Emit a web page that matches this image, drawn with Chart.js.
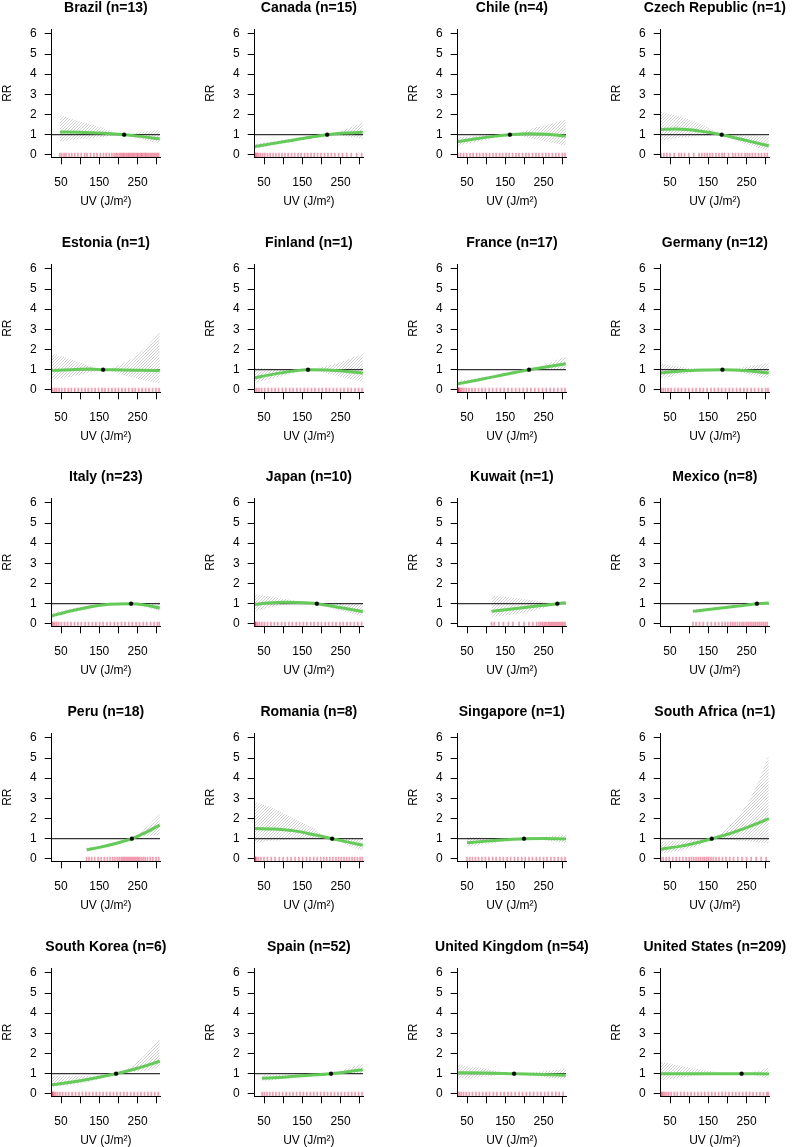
<!DOCTYPE html>
<html><head><meta charset="utf-8">
<script src="https://cdn.jsdelivr.net/npm/chart.js@4.4.1/dist/chart.umd.min.js"></script>
<style>
html,body{margin:0;padding:0;background:#fff;}
#wrap{position:relative;width:792px;height:1147px;overflow:hidden;background:#fff;}
#wrap canvas{position:absolute;}
</style></head><body><div id="wrap"></div>
<script>
// ---------------- DATA ----------------
const countries = ["Brazil","Canada","Chile","Czech Republic","Estonia","Finland","France","Germany","Italy","Japan","Kuwait","Mexico","Peru","Romania","Singapore","South Africa","South Korea","Spain","United Kingdom","United States"];
const nStudies = [13,15,4,1,1,1,17,12,23,10,1,8,18,8,1,1,6,52,54,209];
const refUV = [215,215,162,185,160,165,212,187,233,188,286,277,235,228,199,159,194,225,173,237];
const curveUV = [
 [47,100,150,215,250,308],
 [26,75,125,175,215,260,308],
 [26,75,125,162,210,260,308],
 [26,65,100,150,185,230,270,308],
 [26,75,125,160,210,260,308],
 [26,75,125,165,215,260,308],
 [26,75,125,175,212,260,308],
 [26,100,150,187,250,308],
 [26,75,125,175,233,270,308],
 [26,60,100,140,188,230,270,308],
 [114,150,200,250,286,308],
 [110,150,200,250,277,308],
 [117,150,200,235,270,308],
 [26,75,125,175,228,270,308],
 [50,100,150,199,250,308],
 [26,75,120,159,200,250,280,308],
 [26,75,125,194,250,308],
 [45,100,150,225,270,308],
 [26,100,173,250,308],
 [26,100,237,308]
];
const curveRR = [
 [1.14,1.12,1.09,1.0,0.93,0.79],
 [0.42,0.57,0.73,0.89,1.0,1.08,1.12],
 [0.65,0.8,0.93,1.0,1.05,1.02,0.93],
 [1.26,1.28,1.25,1.12,1.0,0.8,0.62,0.45],
 [0.96,1.0,1.03,1.0,0.99,0.97,0.95],
 [0.6,0.78,0.93,1.0,0.98,0.92,0.83],
 [0.3,0.48,0.67,0.86,1.0,1.15,1.29],
 [0.84,0.96,0.99,1.0,0.95,0.84],
 [0.4,0.64,0.84,0.97,1.0,0.93,0.78],
 [0.96,1.03,1.07,1.06,1.0,0.87,0.74,0.6],
 [0.62,0.7,0.81,0.92,1.0,1.05],
 [0.62,0.71,0.82,0.93,1.0,1.04],
 [0.45,0.57,0.8,1.0,1.3,1.68],
 [1.5,1.48,1.4,1.22,1.0,0.83,0.68],
 [0.8,0.88,0.95,1.0,1.01,0.99],
 [0.48,0.62,0.8,1.0,1.22,1.55,1.77,2.0],
 [0.45,0.58,0.74,1.0,1.27,1.62],
 [0.77,0.83,0.9,1.0,1.1,1.2],
 [1.05,1.04,1.0,0.96,0.92],
 [1.0,1.0,1.0,0.99]
];
const ciLow = [
 [0.68,0.78,0.86,1.0,0.82,0.55],
 [0.3,0.47,0.65,0.83,1.0,0.93,0.8],
 [0.45,0.65,0.85,1.0,0.85,0.65,0.45],
 [0.7,0.82,0.9,0.95,1.0,0.65,0.42,0.2],
 [0.5,0.65,0.85,1.0,0.75,0.5,0.32],
 [0.35,0.58,0.82,1.0,0.8,0.6,0.4],
 [0.2,0.4,0.6,0.8,1.0,1.02,1.03],
 [0.55,0.84,0.95,1.0,0.8,0.55],
 [0.3,0.55,0.78,0.93,1.0,0.85,0.62],
 [0.62,0.8,0.93,1.0,1.0,0.75,0.55,0.37],
 [0.35,0.42,0.55,0.78,1.0,0.98],
 [0.52,0.64,0.77,0.9,1.0,0.98],
 [0.38,0.5,0.75,1.0,1.12,1.2],
 [0.8,0.9,0.96,0.99,1.0,0.65,0.42],
 [0.6,0.74,0.88,1.0,0.92,0.78],
 [0.25,0.4,0.62,1.0,0.95,0.88,0.82,0.78],
 [0.33,0.45,0.6,1.0,1.1,1.3],
 [0.62,0.74,0.85,1.0,1.0,1.0],
 [0.75,0.86,1.0,0.82,0.7],
 [0.66,0.85,1.0,0.76]
];
const ciHigh = [
 [1.98,1.65,1.4,1.0,1.12,1.25],
 [0.55,0.68,0.82,0.95,1.0,1.25,1.6],
 [0.88,0.95,1.0,1.0,1.25,1.5,1.75],
 [2.15,1.95,1.75,1.35,1.0,0.97,0.95,0.9],
 [1.8,1.5,1.2,1.0,1.3,1.9,2.85],
 [1.1,1.05,1.02,1.0,1.2,1.45,1.8],
 [0.45,0.58,0.75,0.92,1.0,1.3,1.65],
 [1.3,1.1,1.03,1.0,1.15,1.35],
 [0.55,0.75,0.92,1.0,1.0,1.0,0.98],
 [1.47,1.38,1.25,1.12,1.0,0.98,0.98,0.98],
 [1.4,1.35,1.22,1.1,1.0,1.1],
 [0.72,0.78,0.87,0.96,1.0,1.1],
 [0.55,0.65,0.86,1.0,1.5,2.22],
 [2.85,2.5,2.05,1.55,1.0,0.98,0.98],
 [1.1,1.05,1.02,1.0,1.1,1.2],
 [0.85,0.9,0.95,1.0,1.55,2.7,3.8,5.2],
 [0.87,0.88,0.9,1.0,1.6,2.72],
 [0.95,0.93,0.96,1.0,1.28,1.5],
 [1.45,1.25,1.0,1.12,1.25],
 [1.6,1.3,1.0,1.3]
];
const rugUV = [
 [47,52,58,63,71,78,86,94,103,112,118,127,136,144,153,161,168,176,183,189,194,198,203,207,211,214,218,222,226,229,233,237,240,244,248,251,255,259,262,266,270,273,277,281,285,289,293,297,301,305],
 [26,28,31,35,40,46,52,59,66,74,81,89,97,105,113,122,130,139,147,156,164,173,181,190,199,208,217,226,235,245,255,266,278,292,305],
 [26,33,41,49,58,66,75,83,92,100,109,118,126,135,143,152,160,169,178,186,195,204,212,221,230,238,247,256,264,273,282,290,299,306],
 [27,34,42,50,61,73,80,88,99,112,126,133,140,147,154,161,170,178,186,192,203,214,221,229,237,246,252,258,265,273,281,289,297,304],
 [27,33,38,45,52,60,69,77,86,95,104,113,121,130,139,148,157,165,174,183,192,200,209,218,227,236,244,253,262,271,280,289,298,306],
 [26,31,37,44,52,61,70,79,88,98,107,117,126,136,145,155,164,174,183,193,202,212,221,231,240,250,259,269,278,288,297,306],
 [26,26,26,26,27,28,30,33,37,42,48,55,63,71,80,89,98,108,117,127,137,147,157,167,177,187,197,207,217,227,237,247,257,267,277,287,297,306],
 [27,32,38,45,53,62,71,80,90,99,109,118,128,137,147,157,166,176,185,195,205,214,224,233,243,252,262,271,281,290,300,306],
 [26,29,33,38,44,51,59,67,76,85,94,103,113,122,132,141,151,160,170,179,189,198,208,217,227,236,246,255,265,274,284,293,302,307],
 [26,26,26,27,29,33,38,44,51,59,68,77,86,96,105,115,124,134,143,153,162,172,181,191,200,210,219,229,238,248,257,267,276,286,295,305],
 [114,121,133,145,158,170,186,199,212,222,232,238,243,248,253,257,262,266,270,274,278,282,286,290,294,298,302,306],
 [110,118,127,137,148,158,168,177,186,194,201,208,214,220,226,232,238,243,249,254,259,264,269,274,279,284,289,294,299,304],
 [117,123,130,138,147,155,163,171,178,185,191,197,202,207,211,215,219,223,227,231,235,239,243,247,251,255,260,265,270,276,283,290,298,305],
 [26,26,26,27,30,35,42,50,59,69,79,90,100,111,121,131,141,151,161,170,180,189,198,206,214,222,230,238,245,252,259,266,273,280,287,294,301,307],
 [50,57,64,72,80,89,98,107,117,126,136,145,155,164,174,183,193,202,212,221,231,240,250,259,269,278,288,297,306],
 [26,32,40,48,57,66,75,84,92,100,106,112,118,124,130,136,141,146,151,157,163,170,178,187,196,206,216,227,238,250,262,275,288,301],
 [26,27,29,32,36,41,47,54,62,70,79,88,97,106,115,124,133,142,151,160,169,178,187,196,205,214,223,232,241,250,259,268,277,286,295,304],
 [45,51,58,65,73,81,90,99,108,117,126,135,144,153,162,171,180,189,198,207,216,225,234,243,252,261,270,279,288,297,306],
 [26,30,35,41,48,56,64,73,82,91,100,109,119,128,138,147,157,166,176,186,195,205,214,224,234,243,253,262,272,282,291,301],
 [26,28,31,35,40,46,53,61,69,78,87,96,105,114,123,132,141,150,159,168,177,186,195,204,213,222,231,240,249,258,267,276,285,294,303,307]
];
const xTicks = [50,100,150,200,250,300];
const xTickLabels = ["50","","150","","250",""];
const yTicks = [0,1,2,3,4,5,6];
const X_MIN = 25.7, X_MAX = 308.6, Y_MIN = -0.12, Y_MAX = 6.24;

// ---------------- LAYOUT / STYLE ----------------
const COL_PITCH = 203, ROW_PITCH = 234.65;
const CANVAS_W = 192, CANVAS_H = 208;
const Y_AXIS_W = 51.7, X_AXIS_H = 50.7, PLOT_W = 108.3, TITLE_H = 29;
const FONT = "'Liberation Sans', Arial, Helvetica, sans-serif";
const GREEN = 'rgb(100,202,88)';
const RUG = 'rgba(225,40,80,0.45)';

Chart.defaults.color = '#000';
Chart.defaults.font.family = FONT;

function makeHatch(){
  const c = document.createElement('canvas'); c.width = 3; c.height = 3;
  const g = c.getContext('2d');
  g.strokeStyle = 'rgba(170,170,170,0.8)'; g.lineWidth = 0.7;
  g.beginPath();
  g.moveTo(-1,4); g.lineTo(4,-1);
  g.moveTo(-1,1); g.lineTo(1,-1);
  g.moveTo(2,4); g.lineTo(4,2);
  g.stroke();
  return g.createPattern(c,'repeat');
}
const HATCH = makeHatch();
const pts = (xs, ys) => xs.map((x,i) => ({x:x, y:ys[i]}));

// panel title centred over the plot region (like R's main title)
const panelTitle = {
  id: 'panelTitle',
  afterDraw(chart, args, opts) {
    const {ctx, chartArea} = chart;
    ctx.save();
    ctx.font = 'bold 14px ' + FONT;
    ctx.fillStyle = '#000';
    ctx.textAlign = 'center';
    ctx.textBaseline = 'middle';
    ctx.fillText(opts.text, (chartArea.left + chartArea.right) / 2, 7.8);
    ctx.restore();
  }
};

const wrap = document.getElementById('wrap');
countries.forEach((name, i) => {
  const col = i % 4, row = Math.floor(i / 4);
  const cv = document.createElement('canvas');
  cv.width = CANVAS_W; cv.height = CANVAS_H;
  cv.style.width = CANVAS_W + 'px'; cv.style.height = CANVAS_H + 'px';
  cv.style.left = (col * COL_PITCH) + 'px';
  cv.style.top = Math.round(row * ROW_PITCH) + 'px';
  wrap.appendChild(cv);

  new Chart(cv, {
    type: 'line',
    plugins: [panelTitle],
    data: { datasets: [
      { label:'ref', data:[{x:refUV[i], y:1}], showLine:false, pointRadius:1.9, pointHoverRadius:0,
        pointBackgroundColor:'#000', pointBorderColor:'#000', pointBorderWidth:0.5, order:0 },
      { label:'rr', data: pts(curveUV[i], curveRR[i]), borderColor:GREEN, borderWidth:3, pointRadius:0,
        cubicInterpolationMode:'monotone', fill:false, order:1 },
      { label:'rug', data: rugUV[i].map(x => ({x:x, y:0})), showLine:false, pointStyle:'line', rotation:90,
        pointRadius:2.2, pointBorderColor:RUG, pointBorderWidth:1.7, order:2 },
      { label:'one', data:[{x:X_MIN, y:1},{x:X_MAX, y:1}], borderColor:'#000', borderWidth:1, pointRadius:0, fill:false, order:3 },
      { label:'hi', data: pts(curveUV[i], ciHigh[i]), borderWidth:0, borderColor:'rgba(0,0,0,0)', pointRadius:0,
        cubicInterpolationMode:'monotone', fill:'+1', backgroundColor:HATCH, order:4 },
      { label:'lo', data: pts(curveUV[i], ciLow[i]), borderWidth:0, borderColor:'rgba(0,0,0,0)', pointRadius:0,
        cubicInterpolationMode:'monotone', fill:false, order:5 }
    ]},
    options: {
      responsive:false, animation:false, devicePixelRatio:1,
      events: [],
      layout: { padding: { left:0, right: CANVAS_W - Y_AXIS_W - PLOT_W, top: TITLE_H, bottom:0 } },
      plugins: {
        legend: { display:false }, tooltip: { enabled:false }, title: { display:false },
        panelTitle: { text: name + ' (n=' + nStudies[i] + ')' }
      },
      scales: {
        x: {
          type:'linear', min:X_MIN, max:X_MAX,
          afterBuildTicks: s => { s.ticks = xTicks.map(v => ({value:v})); },
          afterFit: s => { s.height = X_AXIS_H; },
          grid: { drawOnChartArea:false, drawTicks:true, tickLength:7, color:'#000', tickWidth:1 },
          border: { display:true, color:'#000', width:1 },
          ticks: { autoSkip:false, maxRotation:0, minRotation:0, padding:11.5, color:'#000',
            font:{ family:FONT, size:12 },
            callback: (v) => { const k = xTicks.indexOf(v); return k >= 0 ? xTickLabels[k] : ''; } },
          title: { display:true, text:'UV (J/m\u00B2)', color:'#000', font:{ family:FONT, size:12 }, padding:{top:0,bottom:-1} }
        },
        y: {
          type:'linear', min:Y_MIN, max:Y_MAX,
          afterBuildTicks: s => { s.ticks = yTicks.map(v => ({value:v})); },
          afterFit: s => { s.width = Y_AXIS_W; },
          grid: { drawOnChartArea:false, drawTicks:true, tickLength:7, color:'#000', tickWidth:1 },
          border: { display:true, color:'#000', width:1 },
          ticks: { autoSkip:false, padding:8, color:'#000', font:{ family:FONT, size:12 },
            callback: (v) => String(v) },
          title: { display:true, text:'RR', color:'#000', font:{ family:FONT, size:12 }, padding:0 }
        }
      }
    }
  });
});
</script>
</body></html>
